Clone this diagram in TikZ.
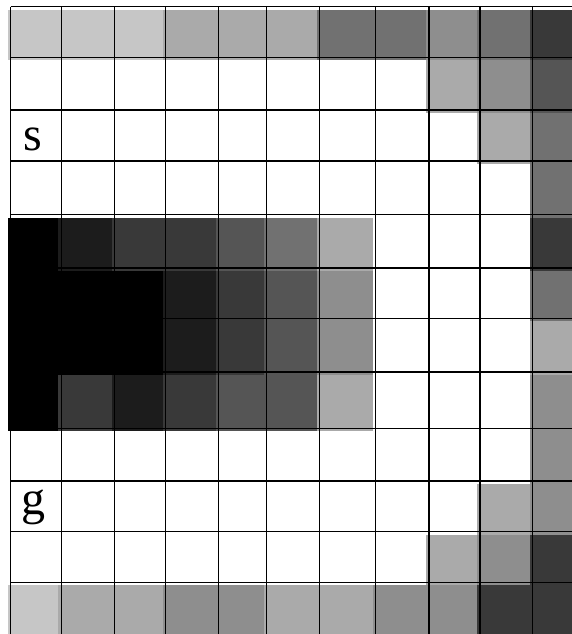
\documentclass[tikz,border=0pt]{standalone}
\usepackage{fontspec}
\setmainfont{Liberation Serif}
\begin{document}
\begin{tikzpicture}[x=1pt,y=-1pt,
  gridline/.style={black,line width=1.1pt},
  celllabel/.style={anchor=base west,inner sep=0pt,font=\fontsize{48}{50}\selectfont}]
\useasboundingbox (0,0) rectangle (571,634);
\fill[white] (0,0) rectangle (571,634);
\def\xs{{10.9,61.2,114.7,165.7,218.5,266.9,319.7,375.8,429,480,532.8,575}}
\def\ys{{6.7,57.3,110,161,214.7,268,318.3,372,428.3,481,531.7,582.3,640}}
\foreach \row [count=\r from 0] in {
  {7,7,7,6,6,6,4,4,5,4,2},
  {9,9,9,9,9,9,9,9,6,5,3},
  {9,9,9,9,9,9,9,9,9,6,4},
  {9,9,9,9,9,9,9,9,9,9,4},
  {0,1,2,2,3,4,6,9,9,9,2},
  {0,0,0,1,2,3,5,9,9,9,4},
  {0,0,0,1,2,3,5,9,9,9,6},
  {0,2,1,2,3,3,6,9,9,9,5},
  {9,9,9,9,9,9,9,9,9,9,5},
  {9,9,9,9,9,9,9,9,9,6,5},
  {9,9,9,9,9,9,9,9,6,5,2},
  {7,6,6,5,5,6,6,5,5,2,2}} {
  \foreach \k [count=\c from 0] in \row {
    \ifnum\k<9
      \pgfmathsetmacro\v{\k/9}
      \definecolor{cellc}{gray}{\v}
      \pgfmathsetmacro\xa{\xs[\c]-3}
      \pgfmathsetmacro\xb{\xs[\c+1]-3}
      \pgfmathsetmacro\ya{\ys[\r]+3}
      \pgfmathsetmacro\yb{\ys[\r+1]+3}
      \fill[cellc] (\xa,\ya) rectangle (\xb,\yb);
    \fi
  }
}
\foreach \x in {10.9,61.2,114.7,165.7,218.5,266.9,319.7,375.8,429,480,532.8}
  \draw[gridline] (\x,6.7) -- (\x,640);
\foreach \y in {6.7,57.3,110,161,214.7,268,318.3,372,428.3,481,531.7,582.3}
  \draw[gridline] (10.9,\y) -- (575,\y);
\node[celllabel] (s) at (23,150) {s};
\node[celllabel] (g) at (21,514) {g};
\end{tikzpicture}
\end{document}
